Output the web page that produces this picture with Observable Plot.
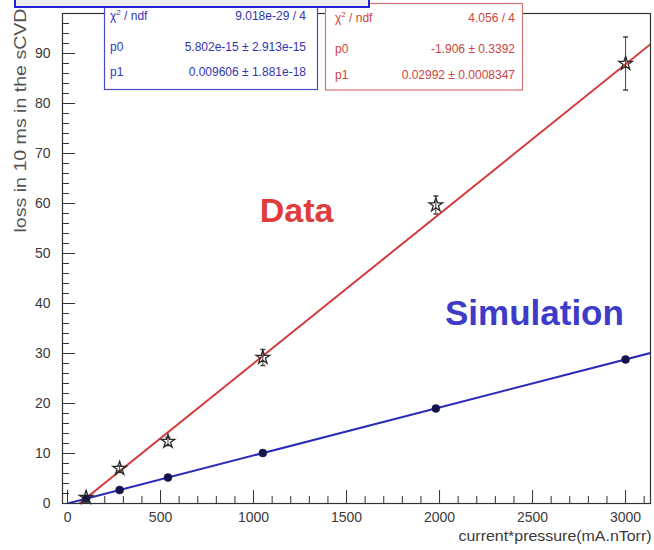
<!DOCTYPE html>
<html><head><meta charset="utf-8">
<script src="https://cdn.jsdelivr.net/npm/d3@7"></script>
<script src="https://cdn.jsdelivr.net/npm/@observablehq/plot@0.6"></script>
<style>
body{margin:0;background:#fff;}
#chart{position:relative;width:654px;height:550px;overflow:hidden;}
</style></head><body><div id="chart"></div>
<script>
// ---- data ----
const xValues  = [100, 280, 540, 1050, 1980, 3000];      // current*pressure (mA.nTorr)
const dataLoss = [1.2, 7.0, 12.4, 29.2, 59.7, 88.0];      // measured loss (stars)
const dataErr  = [0.3, 0.5, 0.8, 1.6, 1.8, 5.3];          // error bars
const simLoss  = [0.96, 2.69, 5.19, 10.09, 19.0, 28.8];   // simulation (dots)
const xTicks = [0, 500, 1000, 1500, 2000, 2500, 3000];
const yTicks = [0, 10, 20, 30, 40, 50, 60, 70, 80, 90];
const statLabels = ["χ2 / ndf", "p0", "p1"];
const simStats  = ["9.018e-29 / 4", "5.802e-15 ± 2.913e-15", "0.009606 ± 1.881e-18"];
const dataStats = ["4.056 / 4", "-1.906 ± 0.3392", "0.02992 ± 0.0008347"];
const simFitP  = [5.802e-15, 0.009606];
const dataFitP = [-1.906, 0.02992];
const xTitle = "current*pressure(mA.nTorr)";
const yTitle = "loss in 10 ms in the sCVD";

// ---- layout ----
const W = 654, H = 550, mL = 62, mR = 4, mT = 13, mB = 47;
const fw = W - mL - mR, fh = H - mT - mB;
const xDomain = [-27, 3134], yDomain = [0, 98];
const font = "Liberation Sans, Arial, Helvetica, sans-serif";

const pts = xValues.map((x, i) => ({x, d: dataLoss[i], e: dataErr[i], s: simLoss[i]}));
const fitXs = [0, xDomain[1]];
const dataFit = fitXs.map(x => ({x, y: dataFitP[0] + dataFitP[1] * x}));
const simFit  = fitXs.map(x => ({x, y: simFitP[0] + simFitP[1] * x}));

const yMinor = d3.range(0, 99, 2).filter(v => v % 10 !== 0);
const xMinor = d3.range(0, 3101, 100).filter(v => v % 500 !== 0);

const capSymbol = {draw(ctx, size) { const w = Math.sqrt(size / Math.PI); ctx.moveTo(-w, 0); ctx.lineTo(w, 0); }};

const plot = Plot.plot({
  width: W, height: H, marginLeft: mL, marginRight: mR, marginTop: mT, marginBottom: mB,
  x: {domain: xDomain}, y: {domain: yDomain},
  style: {fontFamily: font, background: "white", overflow: "visible"},
  marks: [
    Plot.tickY(yTicks, {y: d => d, insetRight: fw - 13, stroke: "#333", strokeWidth: 1}),
    Plot.tickY(yMinor, {y: d => d, insetRight: fw - 7, stroke: "#333", strokeWidth: 1}),
    Plot.tickX(xTicks, {x: d => d, insetTop: fh - 13, stroke: "#333", strokeWidth: 1}),
    Plot.tickX(xMinor, {x: d => d, insetTop: fh - 7, stroke: "#333", strokeWidth: 1}),
    Plot.line(dataFit, {x: "x", y: "y", stroke: "#d43a3a", strokeWidth: 2, clip: true}),
    Plot.line(simFit, {x: "x", y: "y", stroke: "#2a2ab8", strokeWidth: 2, clip: true}),
    Plot.ruleX(pts, {x: "x", y1: d => d.d - d.e, y2: d => d.d + d.e, stroke: "#444", strokeWidth: 1}),
    Plot.dot(pts, {x: "x", y: d => d.d - d.e, symbol: capSymbol, r: 2.5, fill: "none", stroke: "#444"}),
    Plot.dot(pts, {x: "x", y: d => d.d + d.e, symbol: capSymbol, r: 2.5, fill: "none", stroke: "#444"}),
    Plot.dot(pts, {x: "x", y: "s", r: 4, fill: "#14144a", stroke: "#14144a", strokeWidth: 0.5}),
    Plot.dot(pts, {x: "x", y: "d", symbol: "star", r: 4.3, fill: "none", stroke: "#2a2a2a", strokeWidth: 1.3}),
    Plot.text(["Data"], {x: 1231, y: 58.4, text: d => d, fill: "#e03c3c", fontSize: 34, fontWeight: "bold"}),
    Plot.text(["Simulation"], {x: 2510, y: 38, text: d => d, fill: "#3c3cc8", fontSize: 35, fontWeight: "bold"}),
    Plot.axisX(xTicks, {tickSize: 0, tickPadding: 9, label: null, fontSize: 14, fill: "#3a3a3a", tickFormat: d => String(d)}),
    Plot.axisY(yTicks, {tickSize: 0, tickPadding: 12, label: null, fontSize: 14, fill: "#3a3a3a", tickFormat: d => String(d)}),
    Plot.text([xTitle], {frameAnchor: "bottom-right", text: d => d, dx: 1, dy: 37, textAnchor: "end", fontSize: 15, fill: "#3a3a3a"}),
    Plot.text([yTitle], {frameAnchor: "top-left", text: d => d, rotate: -90, dx: -48, dy: -5, textAnchor: "end", fontSize: 16, fill: "#555"}),
    Plot.frame({stroke: "#333", strokeWidth: 1.2})
  ]
});
document.getElementById("chart").appendChild(plot);

const svg = d3.select(plot);
svg.selectAll("text").each(function() {
  const t = this.textContent;
  if (t === xTitle) d3.select(this).attr("textLength", 193).attr("lengthAdjust", "spacingAndGlyphs");
  if (t === yTitle) d3.select(this).attr("textLength", 224).attr("lengthAdjust", "spacingAndGlyphs");
});

function statBox(x, y, w, h, stroke, color, values, lx, vx, rows) {
  const g = svg.append("g").attr("font-family", font).attr("font-size", 12)
    .attr("fill", color).attr("text-anchor", "start");
  g.append("rect").attr("x", x).attr("y", y).attr("width", w).attr("height", h)
    .attr("fill", "white").attr("stroke", stroke).attr("stroke-width", 1.2);
  statLabels.forEach((lab, i) => {
    const t = g.append("text").attr("x", lx).attr("y", rows[i]).attr("text-anchor", "start");
    if (i === 0) {
      t.append("tspan").text("χ");
      t.append("tspan").attr("font-size", 8).attr("dy", -5).text("2");
      t.append("tspan").attr("dy", 5).text(" / ndf");
    } else t.text(lab);
    g.append("text").attr("x", vx).attr("y", rows[i]).attr("text-anchor", "end").text(values[i]);
  });
}
statBox(104.5, 1.5, 213, 88, "#4a4ac4", "#3434b4", simStats, 110, 306, [20, 51, 76]);
statBox(325.5, 3.5, 197, 86.5, "#d07474", "#cc4444", dataStats, 335, 515, [22, 53, 79]);
// top banner (cut-off title box)
svg.append("rect").attr("x", 15).attr("y", -3).attr("width", 354).attr("height", 10)
  .attr("fill", "#ededed").attr("stroke", "#2222dd").attr("stroke-width", 2);
</script></body></html>
